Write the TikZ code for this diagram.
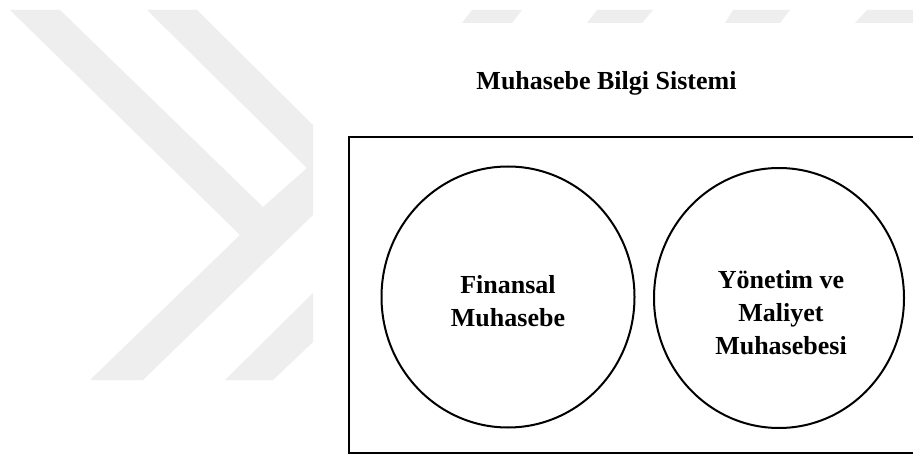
\documentclass[tikz,border=0pt]{standalone}
\usepackage{fontspec}
\setmainfont{Liberation Serif}
\usetikzlibrary{shapes.geometric}
\definecolor{wm}{RGB}{238,238,238}
\tikzset{
  wmark/.style={fill=wm, draw=none},
  bubble/.style={draw=black, line width=2pt, ellipse, inner sep=0pt},
  lbl/.style={align=center, font=\fontsize{26}{33}\selectfont\bfseries, inner sep=0pt},
  frame/.style={draw=black, line width=2.8pt}
}
\begin{document}
\begin{tikzpicture}[x=1pt,y=-1pt]
\clip (0,0) rectangle (913,457);
\fill[white] (0,0) rectangle (913,457);
% watermark
\fill[wmark] (10,10) -- (60,10) -- (263,207) -- (307,168) -- (147,10) -- (197,10)
  -- (313,125) -- (313,215) -- (143,380) -- (90,380) -- (240,235) -- cycle;
\fill[wmark] (225,380) -- (273,380) -- (313,342) -- (313,293) -- cycle;
\fill[wmark] (462,23) -- (512,23) -- (522,10) -- (472,10) -- cycle;
\fill[wmark] (587,23) -- (642,23) -- (653,10) -- (597,10) -- cycle;
\fill[wmark] (725,23) -- (780,23) -- (790,10) -- (733,10) -- cycle;
\fill[wmark] (855,23) -- (913,23) -- (913,10) -- (867,10) -- cycle;
% title
\node[lbl, anchor=base] (title) at (606.5,90) {Muhasebe Bilgi Sistemi};
% frame (extends past right edge)
\draw[frame] (349,137) rectangle (925,453);
% ellipses
\node[bubble, minimum width=253pt, minimum height=261pt] (fin) at (508,297) {};
\node[bubble, minimum width=250pt, minimum height=260pt] (yon) at (779,298) {};
% texts
\node[lbl] (fintext) at (508,301) {Finansal\\Muhasebe};
\node[lbl] (yontext) at (781,313) {Yönetim ve\\Maliyet\\Muhasebesi};
\end{tikzpicture}
\end{document}
